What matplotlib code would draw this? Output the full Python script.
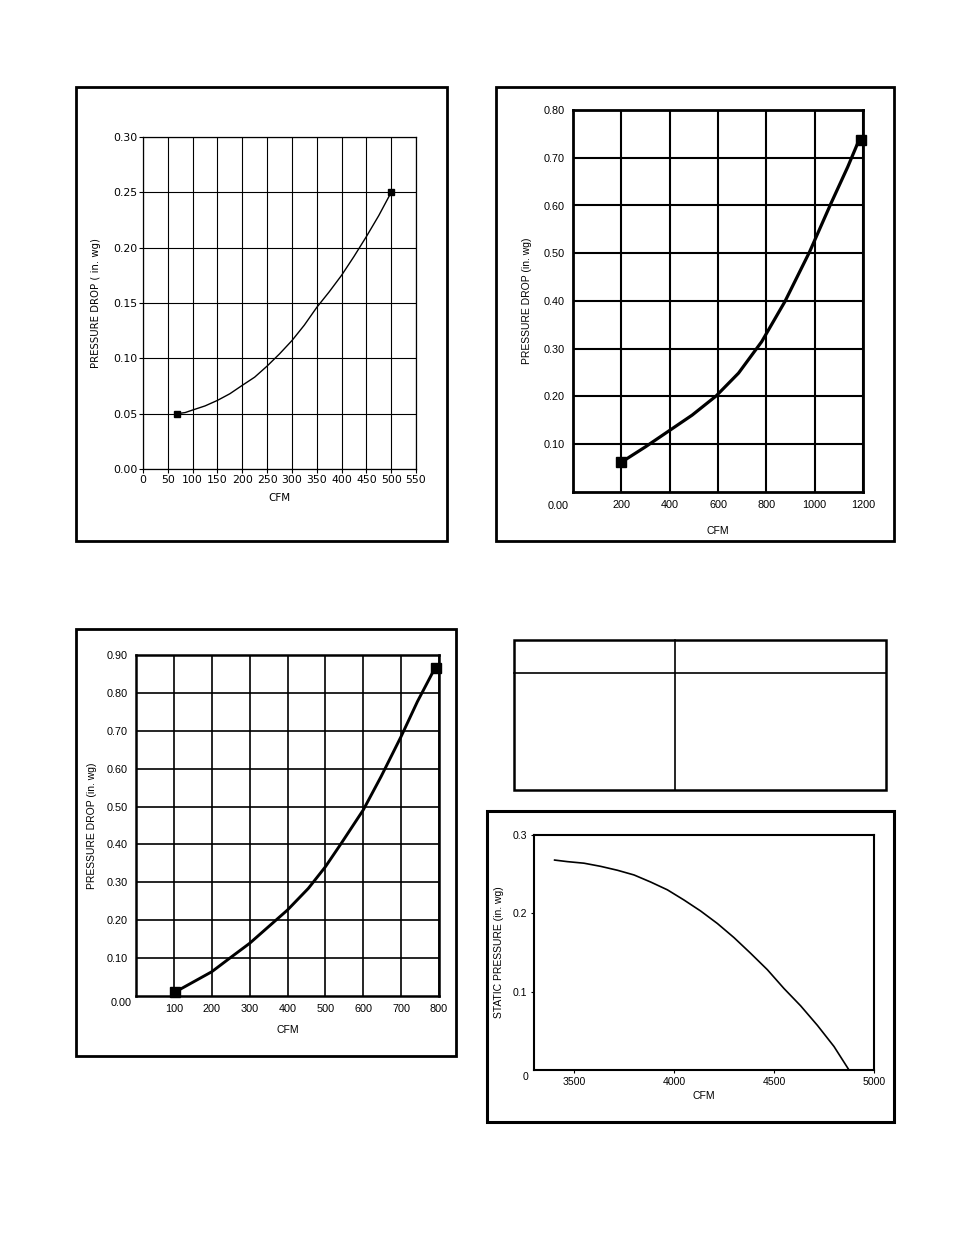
import matplotlib
matplotlib.use("Agg")
import matplotlib.pyplot as plt
from matplotlib.patches import Rectangle
from matplotlib.lines import Line2D

W, H = 954, 1235

# chart 1 (top left)
cfm1 = [69, 85, 100, 125, 150, 175, 200, 225, 250, 275, 300, 325, 350, 375, 400, 425, 450, 475, 500]
dp1 = [0.050, 0.051, 0.0533, 0.057, 0.062, 0.068, 0.0756, 0.083, 0.093, 0.104, 0.116, 0.130,
       0.146, 0.160, 0.175, 0.192, 0.210, 0.229, 0.250]
marks1_x = [69, 500]
marks1_y = [0.050, 0.250]
xticks1 = list(range(0, 551, 50))
yticks1 = [0.00, 0.05, 0.10, 0.15, 0.20, 0.25, 0.30]

# chart 2 (top right)
cfm2 = [199, 301, 397, 493, 592, 685, 781, 877, 979, 1068, 1137, 1181, 1190]
dp2 = [0.062, 0.095, 0.128, 0.161, 0.201, 0.249, 0.315, 0.399, 0.503, 0.605, 0.681, 0.734, 0.737]
marks2_x = [199, 1190]
marks2_y = [0.062, 0.737]
xticks2 = [200, 400, 600, 800, 1000, 1200]
yticks2 = [0.10, 0.20, 0.30, 0.40, 0.50, 0.60, 0.70, 0.80]

# chart 3 (bottom left)
cfm3 = [102, 200, 253, 300, 350, 400, 455, 500, 542, 600, 647, 700, 743, 787, 791]
dp3 = [0.0097, 0.064, 0.104, 0.139, 0.183, 0.227, 0.284, 0.341, 0.403, 0.491, 0.579, 0.685,
       0.777, 0.861, 0.867]
marks3_x = [102, 791]
marks3_y = [0.0097, 0.867]
xticks3 = [100, 200, 300, 400, 500, 600, 700, 800]
yticks3 = [0.10, 0.20, 0.30, 0.40, 0.50, 0.60, 0.70, 0.80, 0.90]

# chart 4 (fan curve)
cfm4 = [3403, 3467, 3550, 3633, 3717, 3800, 3883, 3967, 4050, 4133, 4217, 4300, 4383,
        4467, 4550, 4633, 4717, 4800, 4875]
sp4 = [0.268, 0.266, 0.264, 0.260, 0.255, 0.249, 0.240, 0.230, 0.217, 0.203, 0.187, 0.169,
       0.149, 0.128, 0.104, 0.082, 0.057, 0.030, 0.0]
xticks4 = [3500, 4000, 4500, 5000]
yticks4 = [0.1, 0.2, 0.3]


def px_axes(fig, l, t, r, b):
    return fig.add_axes([l / W, 1 - b / H, (r - l) / W, (b - t) / H])


def box(fig, l, t, r, b, lw=2.0):
    fig.add_artist(Rectangle((l / W, 1 - b / H), (r - l) / W, (b - t) / H,
                             transform=fig.transFigure, fill=False,
                             edgecolor='black', linewidth=lw))


def fline(fig, x0, y0, x1, y1, lw=1.5):
    fig.add_artist(Line2D([x0 / W, x1 / W], [1 - y0 / H, 1 - y1 / H],
                          transform=fig.transFigure, color='black', linewidth=lw))


plt.rcParams['font.family'] = ['Liberation Sans', 'DejaVu Sans']
fig = plt.figure(figsize=(W / 100, H / 100), dpi=100)

# ---- chart 1
box(fig, 76, 87, 447, 541)
ax1 = px_axes(fig, 143, 137, 416, 469)
ax1.set_xlim(0, 550); ax1.set_ylim(0, 0.30)
ax1.set_xticks(xticks1)
ax1.set_xticklabels([str(v) for v in xticks1])
ax1.set_yticks(yticks1)
ax1.set_yticklabels(['%.2f' % v for v in yticks1])
ax1.grid(True, color='black', linewidth=0.8)
ax1.plot(cfm1, dp1, color='black', linewidth=1.0)
ax1.plot(marks1_x, marks1_y, 's', color='black', markersize=4.8, clip_on=False)
ax1.tick_params(labelsize=7.8, length=3, width=0.8, pad=1, direction='out')
for s in ax1.spines.values():
    s.set_linewidth(0.9)
ax1.set_xlabel('CFM', fontsize=7.5, family='DejaVu Sans', labelpad=6)
ax1.set_ylabel('PRESSURE DROP ( in. wg)', fontsize=7.3, family='DejaVu Sans', labelpad=9)
for lab in ax1.get_xticklabels() + ax1.get_yticklabels():
    lab.set_family('DejaVu Sans')

# ---- chart 2
box(fig, 496, 87, 894, 541)
ax2 = px_axes(fig, 573, 110, 863, 492)
ax2.set_xlim(0, 1200); ax2.set_ylim(0, 0.80)
ax2.set_xticks(xticks2)
ax2.set_yticks(yticks2)
ax2.set_yticklabels(['%.2f' % v for v in yticks2])
ax2.grid(True, color='black', linewidth=1.5)
ax2.plot(cfm2, dp2, color='black', linewidth=2.3)
ax2.plot(marks2_x, marks2_y, 's', color='black', markersize=7.8, clip_on=False)
ax2.tick_params(labelsize=7.8, length=0, pad=6)
for s in ax2.spines.values():
    s.set_linewidth(2.0)
ax2.annotate('0.00', xy=(0, 0), xycoords='data', xytext=(-11, -10),
             textcoords='offset points', fontsize=7.8, ha='center', va='center')
ax2.set_xlabel('CFM', fontsize=7.5, labelpad=11)
ax2.set_ylabel('PRESSURE DROP (in. wg)', fontsize=7.5, labelpad=8)

# ---- chart 3
box(fig, 76, 629, 456, 1056)
ax3 = px_axes(fig, 136, 655, 439, 996)
ax3.set_xlim(0, 800); ax3.set_ylim(0, 0.90)
ax3.set_xticks(xticks3)
ax3.set_yticks(yticks3)
ax3.set_yticklabels(['%.2f' % v for v in yticks3])
ax3.grid(True, color='black', linewidth=1.2)
ax3.plot(cfm3, dp3, color='black', linewidth=2.1)
ax3.plot(marks3_x, marks3_y, 's', color='black', markersize=7.2, clip_on=False)
ax3.tick_params(labelsize=7.8, length=0, pad=6)
for s in ax3.spines.values():
    s.set_linewidth(1.8)
ax3.annotate('0.00', xy=(0, 0), xycoords='data', xytext=(-11, -5),
             textcoords='offset points', fontsize=7.8, ha='center', va='center')
ax3.set_xlabel('CFM', fontsize=7.5, labelpad=8)
ax3.set_ylabel('PRESSURE DROP (in. wg)', fontsize=7.5, labelpad=7)

# ---- empty table
box(fig, 514, 640, 886, 790, lw=1.8)
fline(fig, 514, 673, 886, 673, lw=1.2)
fline(fig, 675, 640, 675, 790, lw=1.2)

# ---- chart 4
box(fig, 487, 811, 894, 1122, lw=2.2)
ax4 = px_axes(fig, 534, 835, 874, 1070)
ax4.set_xlim(3300, 5000); ax4.set_ylim(0, 0.3)
ax4.set_xticks(xticks4)
ax4.set_yticks(yticks4)
ax4.set_yticklabels([str(v) for v in yticks4])
ax4.plot(cfm4, sp4, color='black', linewidth=1.2)
ax4.tick_params(labelsize=7.6, length=2, width=0.8, pad=3)
for s in ax4.spines.values():
    s.set_linewidth(1.5)
ax4.annotate('0', xy=(3300, 0), xycoords='data', xytext=(-6, -5),
             textcoords='offset points', fontsize=7.6, ha='center', va='center')
ax4.set_xlabel('CFM', fontsize=7.5, labelpad=3)
ax4.set_ylabel('STATIC PRESSURE (in. wg)', fontsize=7.5, labelpad=6)

fig.savefig('out.png', dpi=100)
